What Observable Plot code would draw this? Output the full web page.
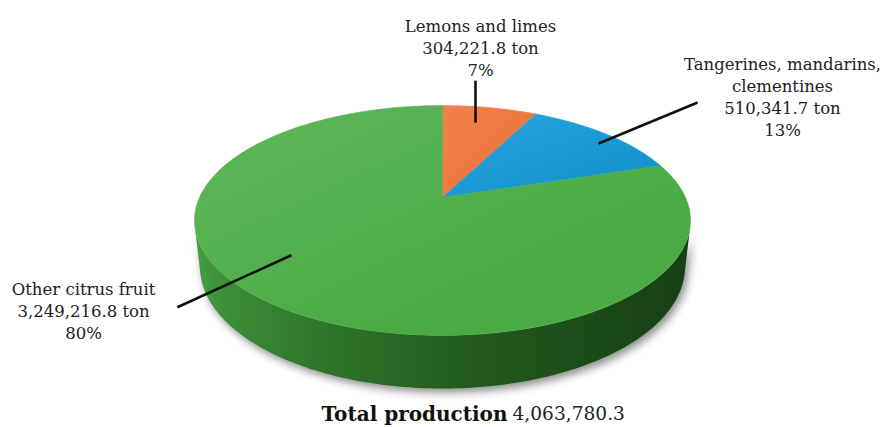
<!DOCTYPE html>
<html>
<head>
<meta charset="utf-8">
<script src="https://cdn.jsdelivr.net/npm/d3@7"></script>
<script src="https://cdn.jsdelivr.net/npm/@observablehq/plot@0.6"></script>
<style>
  body { margin: 0; background: #ffffff; }
  #chart svg { display: block; }
</style>
</head>
<body>
<div id="chart"></div>
<script>
// Citrus production by type (tonnes)
const categories = ["Lemons and limes", "Tangerines, mandarins,\nclementines", "Other citrus fruit"];
const production = [304221.8, 510341.7, 3249216.8];
const unit = "ton";
const totalLabel = "Total production";

// Styling per slice: top-face gradient stops
const topStops = [
  ["#f2824a", "#ec763c"],
  ["#2aa6df", "#1795d1"],
  ["#5eb75b", "#4aab44"]
];

// Label placement per slice: where on the slice the leader starts
// (fraction of the slice's sweep, fraction of the radius), the leader tip
// offset from there, and the label's centre / first baseline.
const labelLayout = [
  { t: 0.42, rho: 0.80, tip: [0, -42],   label: [480, 28] },
  { t: 0.57, rho: 0.895, tip: [99, -41], label: [782, 66] },
  { t: 0.548, rho: 0.736, tip: [-114, 52], label: [83, 291] }
];

const W = 883, H = 427;

// Perspective view of a tilted disc (unit radius)
const view = { cx: 442, cy: 197, r: 243, tilt: Math.asin(0.454), depth: 0.2155 };
const sinT = Math.sin(view.tilt), cosT = Math.cos(view.tilt);
const D = 5 * cosT;          // camera distance in radius units
const f = view.r * D;        // focal length in px

function project(X, Yh, Z) {
  const yc = Yh * cosT + Z * sinT;
  const zc = D - Yh * sinT + Z * cosT;
  return { x: view.cx + f * X / zc, y: view.cy - f * yc / zc };
}
// angle a measured clockwise from the far (12 o'clock) point
const rim = (a, Yh = 0, rho = 1) => project(rho * Math.sin(a), Yh, rho * Math.cos(a));

const TAU = 2 * Math.PI;
const total = d3.sum(production);
let acc = 0;
const slices = production.map((value, i) => {
  const a0 = acc / total * TAU;
  acc += value;
  const a1 = acc / total * TAU;
  return { i, name: categories[i], value, share: value / total, a0, a1 };
});

function arcPoints(a0, a1, Yh) {
  const n = Math.max(2, Math.ceil((a1 - a0) / (Math.PI / 180)));
  return d3.range(n + 1).map(k => rim(a0 + (a1 - a0) * k / n, Yh));
}

// Top faces
slices.forEach(s => {
  s.top = [project(0, 0, 0), ...arcPoints(s.a0, s.a1, 0)];
});

// Visible part of the cylinder wall: outward normal facing the camera
const cVis = -1 / (D * cosT);
const vis0 = Math.acos(cVis), vis1 = TAU - vis0;
slices.forEach(s => {
  const b0 = Math.max(s.a0, vis0), b1 = Math.min(s.a1, vis1);
  s.side = b1 > b0
    ? [...arcPoints(b0, b1, 0), ...arcPoints(b0, b1, -view.depth).reverse()]
    : null;
});

// Leader lines and labels
const fmt = d3.format(",.1f");
const leaders = slices.map(s => {
  const L = labelLayout[s.i];
  const p = rim(s.a0 + (s.a1 - s.a0) * L.t, 0, L.rho);
  return { x1: p.x, y1: p.y, x2: p.x + L.tip[0], y2: p.y + L.tip[1] };
});
const fontSize = 16.5;
const labels = slices.map(s => {
  const L = labelLayout[s.i];
  return {
    x: L.label[0],
    y: L.label[1] - 0.71 * fontSize,
    text: `${s.name}\n${fmt(s.value)} ${unit}\n${Math.round(s.share * 100)}%`
  };
});

const marks = [];
slices.filter(s => s.side).forEach(s => {
  marks.push(Plot.line(s.side, {
    x: "x", y: "y", curve: "linear-closed",
    fill: "url(#side-grad)", stroke: "none"
  }));
});
slices.forEach(s => {
  marks.push(Plot.line(s.top, {
    x: "x", y: "y", curve: "linear-closed",
    fill: `url(#top-${s.i})`, stroke: `url(#top-${s.i})`, strokeWidth: 0.6
  }));
});
marks.push(Plot.link(leaders, {
  x1: "x1", y1: "y1", x2: "x2", y2: "y2",
  stroke: "#111", strokeWidth: 2.6
}));
marks.push(Plot.text(labels, {
  x: "x", y: "y", text: "text",
  fontSize, fontFamily: "DejaVu Serif", lineAnchor: "top",
  lineHeight: 22 / fontSize, fill: "#222", textAnchor: "middle"
}));
const totalY = 420 - 0.32 * 19;
marks.push(Plot.text([{ x: 507, y: totalY, text: totalLabel }], {
  x: "x", y: "y", text: "text", textAnchor: "end",
  fontSize: 20, fontWeight: "bold", fontFamily: "DejaVu Serif", fill: "#111"
}));
marks.push(Plot.text([{ x: 512, y: totalY, text: fmt(total) }], {
  x: "x", y: "y", text: "text", textAnchor: "start",
  fontSize: 18.6, fontFamily: "DejaVu Serif", fill: "#222"
}));

const chart = Plot.plot({
  width: W, height: H,
  margin: 0,
  x: { type: "linear", domain: [0, W], range: [0, W], axis: null },
  y: { type: "linear", domain: [0, H], range: [0, H], axis: null },
  marks
});

const svg = d3.select(chart);
const defs = svg.insert("defs", ":first-child");
topStops.forEach((stops, i) => {
  const g = defs.append("linearGradient").attr("id", `top-${i}`)
    .attr("x1", 0).attr("y1", 0).attr("x2", 0.7).attr("y2", 0.7);
  g.append("stop").attr("offset", 0).attr("stop-color", stops[0]);
  g.append("stop").attr("offset", 1).attr("stop-color", stops[1]);
});
const sg = defs.append("linearGradient").attr("id", "side-grad")
  .attr("x1", 0).attr("y1", 0).attr("x2", 1).attr("y2", 0);
[[0, "#469d41"], [0.08, "#3a8c35"], [0.25, "#2e762a"], [0.5, "#255f21"], [0.8, "#1b4b18"], [1, "#173f14"]]
  .forEach(([o, c]) => sg.append("stop").attr("offset", o).attr("stop-color", c));
// soft shadow under the wall of the pie
svg.selectAll('[fill="url(#side-grad)"]')
  .style("filter", "drop-shadow(3px 4px 4px rgba(0,0,0,0.45))");

document.getElementById("chart").appendChild(chart);
</script>
</body>
</html>
